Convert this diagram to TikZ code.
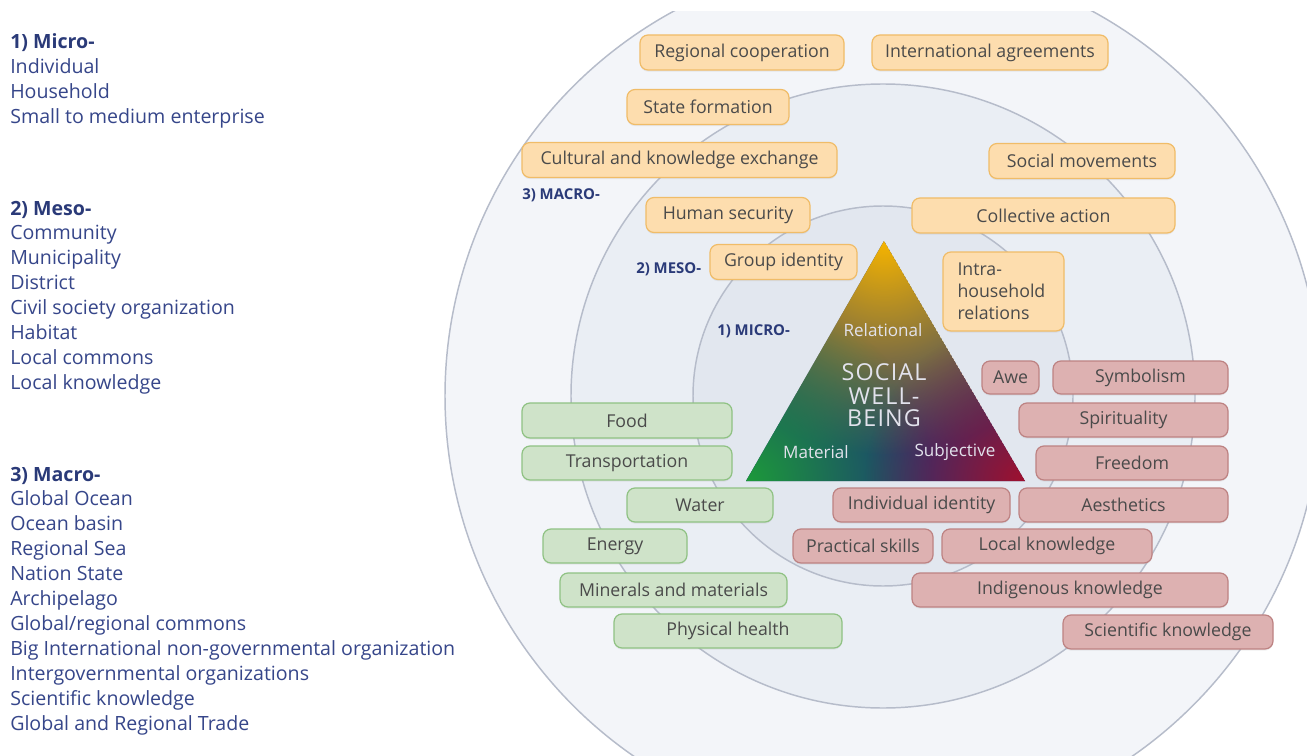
\documentclass[tikz,border=0pt]{standalone}
\usepackage{fontspec}
\setmainfont{Open Sans}
\usetikzlibrary{fadings,shadows}
\definecolor{txtblue}{HTML}{36468A}
\definecolor{headblue}{HTML}{2A3A78}
\definecolor{ringA}{HTML}{F3F5F9}
\definecolor{ringB}{HTML}{EAEEF4}
\definecolor{ringC}{HTML}{E2E7EF}
\definecolor{ringline}{HTML}{B6BCCA}
\definecolor{ofill}{HTML}{FDDDAE}
\definecolor{oline}{HTML}{F0BC68}
\definecolor{gfill}{HTML}{CFE3C9}
\definecolor{gline}{HTML}{8FC283}
\definecolor{rfill}{HTML}{DDB1B1}
\definecolor{rline}{HTML}{BD8282}
\definecolor{boxtxt}{HTML}{4A4A4A}
\definecolor{triY}{HTML}{F6B400}
\definecolor{triG}{HTML}{1C9A3A}
\definecolor{triR}{HTML}{A0102E}
\definecolor{triN}{HTML}{1D3678}
\definecolor{trilabel}{HTML}{E2E2EC}
\tikzfading[name=cornerfade, inner color=transparent!0, outer color=transparent!100]
\tikzset{
  box/.style={rounded corners=6pt, line width=0.9pt, inner sep=0pt, text=boxtxt,
    font=\fontsize{13.3}{16.5}\selectfont,
    drop shadow={shadow xshift=0pt, shadow yshift=-1.2pt, opacity=0.12}},
  bx/.style 2 args={minimum width=#1*0.75pt, minimum height=#2*0.75pt},
  obox/.style={box, draw=oline, fill=ofill},
  gbox/.style={box, draw=gline, fill=gfill},
  rbox/.style={box, draw=rline, fill=rfill},
  lefttxt/.style={anchor=base west, inner sep=0pt, text=txtblue, font=\fontsize{14.7}{17}\selectfont},
  lefthead/.style={anchor=base west, inner sep=0pt, text=headblue, font=\fontsize{14.7}{17}\selectfont\bfseries},
  ringlabel/.style={anchor=west, inner sep=0pt, text=headblue, font=\fontsize{11.2}{13}\selectfont\bfseries},
  trismall/.style={inner sep=0pt, text=trilabel, font=\fontsize{12.8}{14}\selectfont},
  tribig/.style={inner sep=0pt, text=trilabel, font=\fontsize{17.5}{20}\selectfont\addfontfeatures{LetterSpace=5}},
  ring/.style={draw=ringline, line width=1.1pt}
}
\begin{document}
\begin{tikzpicture}[x=0.75pt,y=-0.75pt]
\useasboundingbox (0,0) rectangle (1307,756);
\fill[white] (0,0) rectangle (1307,756);
% rings
\begin{scope}
  \clip (0,12) rectangle (1307,756);
  \coordinate (cc) at (883,396);
  \fill[ringA] (cc) circle (328.5pt);
  \draw[ring] (cc) circle (328.5pt);
  \fill[ringB] (cc) circle (234pt);
  \draw[ring] (cc) circle (234pt);
  \fill[ringC] (cc) circle (142.5pt);
  \draw[ring] (cc) circle (142.5pt);
\end{scope}
% left column
\node[lefthead] (h1) at (10,49) {1) Micro-};
\foreach \t [count=\i from 1] in {Individual,Household,Small to medium enterprise}
  \node[lefttxt] (a\i) at (10,{49+24.9*\i}) {\t};
\node[lefthead] (h2) at (10,215) {2) Meso-};
\foreach \t [count=\i from 1] in {Community,Municipality,District,Civil society organization,Habitat,Local commons,Local knowledge}
  \node[lefttxt] (b\i) at (10,{215+24.9*\i}) {\t};
\node[lefthead] (h3) at (10,481) {3) Macro-};
\foreach \t [count=\i from 1] in {Global Ocean,Ocean basin,Regional Sea,Nation State,Archipelago,Global/regional commons,Big International non-governmental organization,Intergovernmental organizations,Scientific knowledge,Global and Regional Trade}
  \node[lefttxt] (c\i) at (10,{481+24.97*\i}) {\t};
% ring labels
\node[ringlabel] (lmacro) at (522,195) {3) MACRO-};
\node[ringlabel] (lmeso) at (636,269) {2) MESO-};
\node[ringlabel] (lmicro) at (717,331) {1) MICRO-};
% triangle
\coordinate (tA) at (884,241);
\coordinate (tL) at (746,481);
\coordinate (tR) at (1025,481);
\begin{scope}
  \clip (tA) -- (tL) -- (tR) -- cycle;
  \fill[triN] (tA) -- (tL) -- (tR) -- cycle;
  \fill[triY, path fading=cornerfade] (tA) circle (160pt);
  \fill[triG, path fading=cornerfade] (tL) circle (140pt);
  \fill[triR, path fading=cornerfade] (tR) circle (120pt);
\end{scope}
\node[trismall] (trel) at (883,330) {Relational};
\node[tribig] (tsoc) at (884,372) {SOCIAL};
\node[tribig] (twell) at (884,396) {WELL-};
\node[tribig] (tbeing) at (884,418) {BEING};
\node[trismall] (tmat) at (816,452) {Material};
\node[trismall] (tsub) at (955,452) {Subjective};
% orange boxes
\node[obox, bx={204}{35}] (regcoop) at (742,52.5) {Regional cooperation};
\node[obox, bx={236}{35}] (intagr) at (990,52.5) {International agreements};
\node[obox, bx={162}{35}] (statef) at (708,107) {State formation};
\node[obox, bx={315}{35}] (culture) at (679.5,160) {Cultural and knowledge exchange};
\node[obox, bx={186}{35}] (socmov) at (1082,161) {Social movements};
\node[obox, bx={164}{35}] (humsec) at (728,215) {Human security};
\node[obox, bx={263}{35}] (collact) at (1043.5,215.5) {Collective action};
\node[obox, bx={147}{35}] (groupid) at (783.5,262) {Group identity};
\node[obox, bx={121}{79}, align=left, text width=92*0.75pt] (intra) at (1003.5,291.5) {Intra-\\household\\relations};
% green boxes
\node[gbox, bx={210}{35}] (food) at (627,420.5) {Food};
\node[gbox, bx={210}{34}] (transp) at (627,463) {Transportation};
\node[gbox, bx={146}{34}] (water) at (700,505) {Water};
\node[gbox, bx={144}{34}] (energy) at (615,546) {Energy};
\node[gbox, bx={227}{34}] (minerals) at (673.5,590) {Minerals and materials};
\node[gbox, bx={228}{34}] (physh) at (728,631) {Physical health};
% red boxes
\node[rbox, bx={57}{33}] (awe) at (1010.5,377.5) {Awe};
\node[rbox, bx={175}{33}] (symb) at (1140.5,377.5) {Symbolism};
\node[rbox, bx={209}{34}] (spirit) at (1123.5,420) {Spirituality};
\node[rbox, bx={192}{34}] (freedom) at (1132,463) {Freedom};
\node[rbox, bx={177}{34}] (indid) at (921.5,505) {Individual identity};
\node[rbox, bx={209}{34}] (aesth) at (1123.5,505) {Aesthetics};
\node[rbox, bx={140}{34}] (pract) at (863,546) {Practical skills};
\node[rbox, bx={210}{34}] (localk) at (1047,546) {Local knowledge};
\node[rbox, bx={316}{34}] (indig) at (1070,590) {Indigenous knowledge};
\node[rbox, bx={210}{34}] (scik) at (1168,632) {Scientific knowledge};
\end{tikzpicture}
\end{document}
